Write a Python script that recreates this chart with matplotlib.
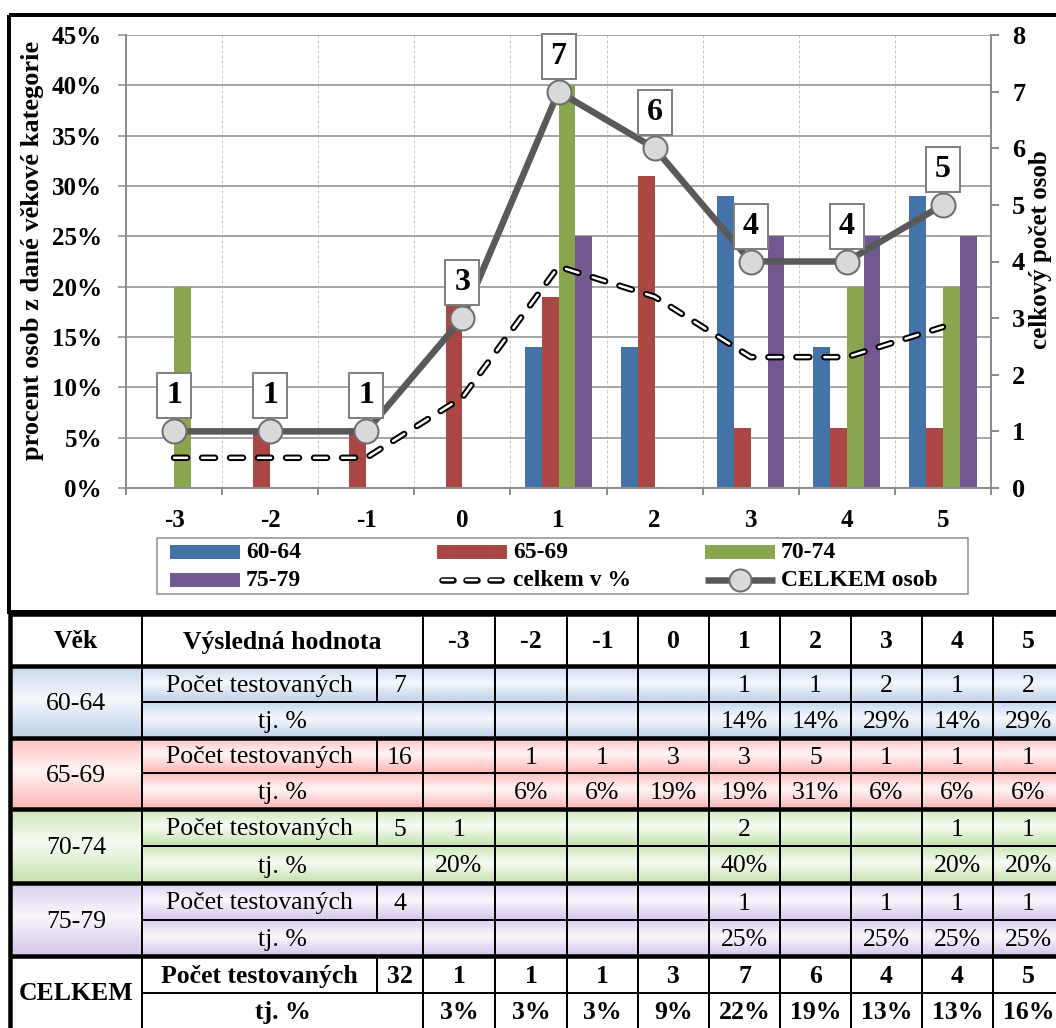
import numpy as np
import matplotlib.pyplot as plt
import matplotlib.patches as mpatches
import matplotlib.transforms as mtransforms
from matplotlib.ticker import FuncFormatter

plt.rcParams['font.family'] = ['Liberation Serif', 'DejaVu Serif']
plt.rcParams['lines.scale_dashes'] = False

# ---------------------------------------------------------
# data
# ---------------------------------------------------------
scores = ["-3", "-2", "-1", "0", "1", "2", "3", "4", "5"]
age_groups = ["60-64", "65-69", "70-74", "75-79"]
group_totals = [7, 16, 5, 4]

count_6064 = [None, None, None, None, 1, 1, 2, 1, 2]
count_6569 = [None, 1, 1, 3, 3, 5, 1, 1, 1]
count_7074 = [1, None, None, None, 2, None, None, 1, 1]
count_7579 = [None, None, None, None, 1, None, 1, 1, 1]

pct_6064 = [None, None, None, None, 14, 14, 29, 14, 29]
pct_6569 = [None, 6, 6, 19, 19, 31, 6, 6, 6]
pct_7074 = [20, None, None, None, 40, None, None, 20, 20]
pct_7579 = [None, None, None, None, 25, None, 25, 25, 25]

total_counts = [1, 1, 1, 3, 7, 6, 4, 4, 5]
total_pct = [3, 3, 3, 9, 22, 19, 13, 13, 16]
grand_total = 32

group_counts = [count_6064, count_6569, count_7074, count_7579]
group_pcts = [pct_6064, pct_6569, pct_7074, pct_7579]

bar_colors = ["#4572A7", "#AA4643", "#89A54E", "#71588F"]
row_tints = ["#C2D3EA", "#FFBABA", "#C9E4B2", "#D8CAEE"]

W, H = 1056, 1028


def px(v):
    # pixels -> points at dpi 100
    return v * 0.72


fig = plt.figure(figsize=(W / 100, H / 100), dpi=100)

# background canvas in pixel coordinates (frame, legend, table)
bg = fig.add_axes([0, 0, 1, 1])
bg.set_xlim(0, W)
bg.set_ylim(H, 0)
bg.set_autoscale_on(False)
bg.axis('off')

bg.add_patch(mpatches.Rectangle((9, 15), W + 20, 597, fill=False,
                                ec='black', lw=px(4)))

# ---------------------------------------------------------
# chart
# ---------------------------------------------------------
ax = fig.add_axes([126 / W, 1 - 488 / H, 865 / W, 453 / H])
x = np.arange(len(scores))
bw = 0.175

for k, (vals, color) in enumerate(zip(group_pcts, bar_colors)):
    heights = [v if v is not None else 0 for v in vals]
    ax.bar(x + (k - 1.5) * bw, heights, bw, color=color, zorder=2)

# hollow dashed line: black dashes with a white core
ax.plot(x, total_pct, color='black', lw=px(6.5), dashes=(px(13), px(15)),
        dash_capstyle='round', zorder=3)
ax.plot(x, total_pct, color='white', lw=px(2.5), dashes=(px(13), px(15)),
        dash_capstyle='round', zorder=4)

ax.set_xlim(-0.5, 8.5)
ax.set_ylim(0, 45)
ax.set_xticks(np.arange(-0.5, 9, 1))
ax.set_xticklabels([])
ax.set_xticks(x, minor=True)
ax.set_xticklabels(scores, minor=True, fontsize=18, fontweight='bold')
ax.tick_params(axis='x', which='major', length=px(7), width=px(2),
               color='#8C8C8C', direction='out')
ax.tick_params(axis='x', which='minor', length=0, pad=px(21))
ax.set_yticks(range(0, 46, 5))
ax.yaxis.set_major_formatter(FuncFormatter(lambda v, _: f"{v:.0f}%"))
ax.tick_params(axis='y', length=px(8), width=px(2), color='#A6A6A6',
               pad=px(16), labelsize=18)
for lab in ax.get_yticklabels():
    lab.set_fontweight('bold')

ax.grid(axis='x', which='major', color='#C8C8C8', lw=px(1),
        linestyle=(0, (px(3), px(2))))
ax.grid(axis='y', color='#A6A6A6', lw=px(2))
ax.set_axisbelow(True)
for side in ['left', 'bottom', 'right']:
    ax.spines[side].set_color('#8C8C8C')
    ax.spines[side].set_linewidth(px(2))
ax.spines['top'].set_visible(False)

ax2 = ax.twinx()
ax2.plot(x, total_counts, color='#595959', lw=px(6.5), marker='o',
         ms=px(24), mfc='#D9D9D9', mec='#6E6E6E', mew=px(2), zorder=5)
ax2.set_ylim(0, 8)
ax2.set_yticks(range(0, 9))
ax2.tick_params(axis='y', length=px(8), width=px(2), color='#8C8C8C',
                pad=px(13), labelsize=19)
for lab in ax2.get_yticklabels():
    lab.set_fontweight('bold')
for side in ['left', 'bottom', 'top']:
    ax2.spines[side].set_visible(False)
ax2.spines['right'].set_color('#8C8C8C')
ax2.spines['right'].set_linewidth(px(2))

# value boxes above the markers (offsets in inches)
for xi, n in zip(x, total_counts):
    tr = fig.dpi_scale_trans + mtransforms.ScaledTranslation(xi, n, ax2.transData)
    ax2.add_patch(mpatches.Rectangle((-0.17, 0.355 - 0.225), 0.34, 0.45,
                                     transform=tr, fc='white', ec='#808080',
                                     lw=px(2), zorder=6, clip_on=False))
    ax2.text(0, 0.355, str(n), transform=tr, ha='center', va='center',
             fontsize=23, fontweight='bold', zorder=7, clip_on=False)

fig.text(33 / W, 1 - 250 / H, "procent osob z dané věkové kategorie",
         rotation=90, ha='center', va='center', fontsize=19, fontweight='bold')
fig.text(1041 / W, 1 - 250 / H, "celkový počet osob",
         rotation=90, ha='center', va='center', fontsize=18, fontweight='bold')

# ---------------------------------------------------------
# legend
# ---------------------------------------------------------
bg.add_patch(mpatches.Rectangle((157, 538), 811, 56, fill=False,
                                ec='#8C8C8C', lw=px(1.5)))
leg_cols = [170, 437, 705]
leg_rows = [552, 580]
leg_entries = [
    (0, 0, 'bar', bar_colors[0], age_groups[0]),
    (1, 0, 'bar', bar_colors[1], age_groups[1]),
    (2, 0, 'bar', bar_colors[2], age_groups[2]),
    (0, 1, 'bar', bar_colors[3], age_groups[3]),
    (1, 1, 'dash', None, "celkem v %"),
    (2, 1, 'line', None, "CELKEM osob"),
]
for c, r, kind, color, label in leg_entries:
    hx, hy = leg_cols[c], leg_rows[r]
    if kind == 'bar':
        bg.add_patch(mpatches.Rectangle((hx, hy - 7), 70, 14, fc=color, ec='none'))
    elif kind == 'dash':
        bg.plot([hx + 5, hx + 66], [hy, hy], color='black', lw=px(6.5),
                dashes=(px(11), px(13)), dash_capstyle='round')
        bg.plot([hx + 5, hx + 66], [hy, hy], color='white', lw=px(2.5),
                dashes=(px(11), px(13)), dash_capstyle='round')
    else:
        bg.plot([hx, hx + 70], [hy, hy], color='#595959', lw=px(6.5),
                solid_capstyle='butt')
        bg.plot([hx + 35], [hy], marker='o', ms=px(22), mfc='#D9D9D9',
                mec='#6E6E6E', mew=px(2))
    bg.text(hx + 76, hy + 1, label, ha='left', va='center', fontsize=17,
            fontweight='bold')

# ---------------------------------------------------------
# table
# ---------------------------------------------------------
col_x = [10, 142, 377, 423, 495, 567, 638, 709, 780, 851, 922, 993, 1064]
head_y = (614, 666)
group_y = [(666, 702, 738), (738, 773, 809), (809, 846, 883), (883, 920, 956)]
total_y = (956, 993, 1028)
val_mid = [(a + b) / 2 for a, b in zip(col_x[3:-1], col_x[4:])]


def tint(x0, x1, y0, y1, color):
    base = np.array(plt.matplotlib.colors.to_rgb(color))
    t = np.linspace(0, 1, 64)
    w = np.clip(1 - np.abs(t - 0.45) / 0.5, 0, 1) * 0.85
    img = base[None, :] + (1 - base[None, :]) * w[:, None]
    bg.imshow(img[:, None, :], extent=(x0, x1, y1, y0), aspect='auto',
              interpolation='bilinear', zorder=0)


for (y0, y1, y2), color in zip(group_y, row_tints):
    tint(col_x[1], W + 10, y0, y1, color)
    tint(col_x[1], W + 10, y1, y2, color)
    tint(col_x[0], col_x[1], y0, y2, color)

fs = 18.5
bg.text((col_x[0] + col_x[1]) / 2, 642, "Věk", ha='center', va='center',
        fontsize=fs, fontweight='bold')
bg.text((col_x[1] + col_x[3]) / 2, 642, "Výsledná hodnota", ha='center',
        va='center', fontsize=fs, fontweight='bold')
for xm, s in zip(val_mid, scores):
    bg.text(xm, 642, s, ha='center', va='center', fontsize=fs, fontweight='bold')


def fmt(v, pct):
    if v is None:
        return ""
    return f"{v}%" if pct else str(v)


def fill_rows(ys, label, total, counts, pcts, weight):
    y0, y1, y2 = ys
    r1, r2 = (y0 + y1) / 2 + 2, (y1 + y2) / 2 + 2
    bg.text((col_x[0] + col_x[1]) / 2, (y0 + y2) / 2 + 2, label, ha='center',
            va='center', fontsize=fs, fontweight=weight)
    bg.text((col_x[1] + col_x[2]) / 2, r1, "Počet testovaných", ha='center',
            va='center', fontsize=fs, fontweight=weight)
    bg.text((col_x[2] + col_x[3]) / 2, r1, str(total), ha='center',
            va='center', fontsize=fs, fontweight=weight)
    bg.text((col_x[1] + col_x[3]) / 2, r2, "tj. %", ha='center',
            va='center', fontsize=fs, fontweight=weight)
    for xm, c, p in zip(val_mid, counts, pcts):
        bg.text(xm, r1, fmt(c, False), ha='center', va='center',
                fontsize=fs, fontweight=weight)
        bg.text(xm, r2, fmt(p, True), ha='center', va='center',
                fontsize=fs, fontweight=weight)


for ys, lab, tot, cnt, pct in zip(group_y, age_groups, group_totals,
                                  group_counts, group_pcts):
    fill_rows(ys, lab, tot, cnt, pct, 'normal')
fill_rows(total_y, "CELKEM", grand_total, total_counts, total_pct, 'bold')

thin, thick = px(2), px(4.5)
# horizontal rules
for y in [head_y[0], head_y[1]] + [g[2] for g in group_y[:-1]] + [total_y[0]]:
    bg.plot([col_x[0], W + 10], [y, y], color='black', lw=thick,
            solid_capstyle='butt')
for y in [g[1] for g in group_y] + [total_y[1]]:
    bg.plot([col_x[1], W + 10], [y, y], color='black', lw=thin,
            solid_capstyle='butt')
# vertical rules
bg.plot([col_x[0], col_x[0]], [head_y[0], H + 5], color='black', lw=thick)
for xv in [col_x[1]] + col_x[3:]:
    bg.plot([xv, xv], [head_y[0], H + 5], color='black', lw=thin)
for y0, y1, _ in group_y + [total_y]:
    bg.plot([col_x[2], col_x[2]], [y0, y1], color='black', lw=thin)

fig.savefig("out.png", dpi=100)
